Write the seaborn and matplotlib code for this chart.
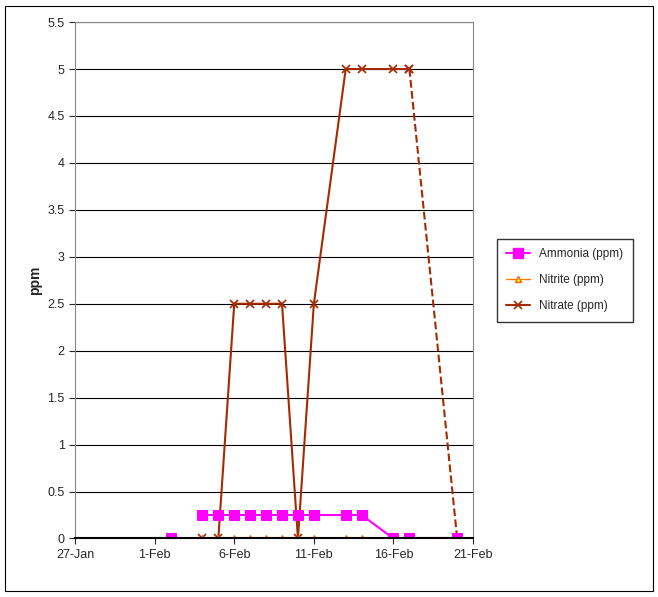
import matplotlib
matplotlib.use("Agg")
import matplotlib.pyplot as plt
import matplotlib.dates as mdates
from matplotlib.lines import Line2D
import seaborn as sns
import pandas as pd
import numpy as np

sns.set_style("white")
plt.rcParams['font.family'] = ['Liberation Sans', 'DejaVu Sans']

dates = ["2-Feb", "4-Feb", "5-Feb", "6-Feb", "7-Feb", "8-Feb", "9-Feb", "10-Feb",
         "11-Feb", "13-Feb", "14-Feb", "16-Feb", "17-Feb", "20-Feb"]
ammonia = [0, 0.25, 0.25, 0.25, 0.25, 0.25, 0.25, 0.25, 0.25, 0.25, 0.25, 0, 0, 0]
nitrite = [0, 0, 0, 0, 0, 0, 0, 0, 0, 0, 0, 0, 0, 0]
nitrate = [0, 0, 0, 2.5, 2.5, 2.5, 2.5, 0, 2.5, 5, 5, 5, 5, 0]

df = pd.DataFrame({
    "date": pd.to_datetime([d + "-2008" for d in dates], format="%d-%b-%Y"),
    "Ammonia (ppm)": ammonia,
    "Nitrite (ppm)": nitrite,
    "Nitrate (ppm)": nitrate,
})

fig = plt.figure(figsize=(6.58, 5.97), dpi=100)
ax = fig.add_axes([0.114, 0.098, 0.605, 0.865])
fig.patches.append(plt.Rectangle((0.008, 0.01), 0.984, 0.98, transform=fig.transFigure,
                                 fill=False, edgecolor="black", linewidth=0.8))

styles = {
    "Ammonia (ppm)": dict(color="#ff00ff", marker="s", markersize=7, linewidth=1.5,
                          markeredgecolor="#ff00ff"),
    "Nitrite (ppm)": dict(color="#ff8000", marker="^", markersize=5, linewidth=1,
                          markerfacecolor="#ffff00", markeredgecolor="#ff6000"),
    "Nitrate (ppm)": dict(color="#a52a00", marker="x", markersize=6, linewidth=1.5,
                          markeredgecolor="#a52a00", markeredgewidth=1.2),
}
d = df["date"]
segments = [
    (df[d == pd.Timestamp("2008-02-02")], "-"),
    (df[(d >= pd.Timestamp("2008-02-04")) & (d <= pd.Timestamp("2008-02-17"))], "-"),
    (df[d >= pd.Timestamp("2008-02-17")], "--"),
]
for col in ["Nitrate (ppm)", "Nitrite (ppm)", "Ammonia (ppm)"]:
    st = styles[col]
    for seg, ls in segments:
        sns.lineplot(data=seg, x="date", y=col, ax=ax, linestyle=ls, legend=False, **st)

ax.set_xlim(pd.Timestamp("2008-01-27"), pd.Timestamp("2008-02-21"))
ax.set_xticks(pd.date_range("2008-01-27", "2008-02-21", freq="5D"))
ax.xaxis.set_major_formatter(mdates.DateFormatter("%-d-%b"))
ax.set_ylim(0, 5.5)
ax.set_yticks(np.arange(0, 5.51, 0.5))
ax.set_yticklabels([f"{v:g}" for v in np.arange(0, 5.51, 0.5)])
ax.yaxis.grid(True, color="black", linewidth=0.8)
ax.set_axisbelow(True)
ax.set_xlabel("")
ax.set_ylabel("ppm", fontweight="bold", fontsize=10)
ax.tick_params(labelsize=9, length=4, direction="out", left=True, bottom=True)
for s in ax.spines.values():
    s.set_color("#888888")
ax.spines["bottom"].set_color("black")
ax.spines["bottom"].set_linewidth(1.5)

names = ["Ammonia (ppm)", "Nitrite (ppm)", "Nitrate (ppm)"]
handles = [Line2D([], [], **styles[n]) for n in names]
ax.legend(handles, names, loc="center left",
          bbox_to_anchor=(1.045, 0.5), fontsize=8.5, frameon=True, fancybox=False,
          edgecolor="black", borderpad=0.8, labelspacing=1.2)

fig.savefig("out.png", dpi=100)
